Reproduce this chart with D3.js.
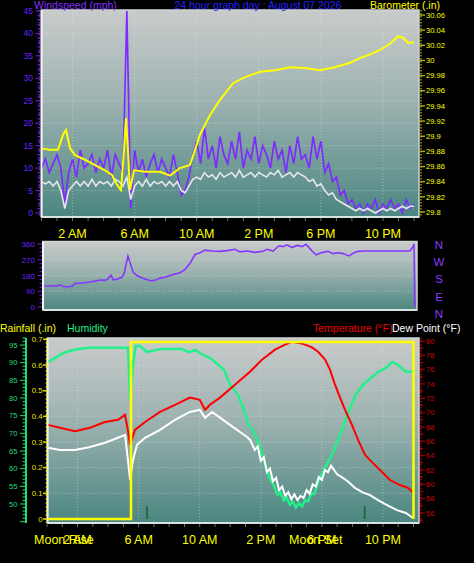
<!DOCTYPE html>
<html><head><meta charset="utf-8">
<script src="https://cdn.jsdelivr.net/npm/d3@7"></script>
<style>
html,body{margin:0;padding:0;background:#000;}
svg{display:block;font-family:"Liberation Sans",Arial,sans-serif;}
</style></head><body>
<svg id="c" width="474" height="563"></svg>
<script>
// ---------------- DATA ----------------
const hourLabels = ["2 AM","6 AM","10 AM","2 PM","6 PM","10 PM"];
const hourLabelAt = [2,6,10,14,18,22];
const windTicks = [0,5,10,15,20,25,30,35,40,45];
const baroTicks = [29.8,29.82,29.84,29.86,29.88,29.9,29.92,29.94,29.96,29.98,30,30.02,30.04,30.06];
const dirTicks = [0,90,180,270,360];
const compass = ["N","W","S","E","N"];
const humTicks = [50,55,60,65,70,75,80,85,90,95];
const rainTicks = [0,0.1,0.2,0.3,0.4,0.5,0.6,0.7];
const tempTicks = [56,58,60,62,64,66,68,70,72,74,76,78,80];

// wind gust (mph), one value every 15 minutes from 0h to 24h
const windGust = [10,12,9,11, 13,10,2,9, 12,8,14,10, 11,13,9,12, 10,14,8,13, 11,9,45,1,
  14,9,12,8, 11,13,9,12, 10,8,13,9, 4,5,8,13, 16,11,19,12, 15,10,17,13,
  11,16,12,18, 10,14,12,17, 11,15,13,10, 16,12,14,9, 15,11,17,12, 13,10,17,12,
  16,9,11,7, 8,4,5,2, 3,1,2,0, 2,1,3,0, 2,1,3,1, 2,0,3,1, 2];
// average wind speed (mph), same 15-minute steps
const windAvg = [7,6.5,7,6, 7,5,1,5, 6,7,6,7, 6,7.5,6,7, 6.5,7,6,7.5, 7,6,8,3,
  6,7,6,7.5, 6,7,6.5,7, 6,7,6,7, 5,4.5,6,7.5, 8,7.5,9,8, 8.5,7.5,9,8,
  8.5,9,8,9.5, 8,8.5,9,8, 9,8.5,8,9, 8.5,9.5,8,8.5, 9,8,9,8.5, 8,7,7.5,6,
  6.5,5,4,4.5, 3,2.5,2,1.5, 1,0.5,1,0.5, 1,0.5,0,0.5, 1,0.5,1,0.5, 1,1.5,1,1.5, 1.5];
// barometer (in)
const baroTime = [0,0.55,1.06,1.39,1.58,1.84,2.16,2.8,3.45,4.09,4.54,4.86,5.12,5.32,5.44,5.57,5.7,5.96,6.67,7.64,8.28,8.92,9.57,10.21,10.86,11.5,12.34,13.11,14.08,15.05,16.0,16.98,17.94,18.9,19.88,20.52,21.17,21.81,22.45,22.97,23.29,23.62,24];
const baroVal  = [29.884,29.882,29.882,29.902,29.908,29.884,29.875,29.869,29.862,29.855,29.849,29.836,29.829,29.882,29.924,29.882,29.829,29.855,29.853,29.853,29.848,29.858,29.862,29.902,29.928,29.948,29.970,29.978,29.985,29.987,29.991,29.990,29.987,29.991,29.997,30.003,30.008,30.014,30.022,30.032,30.030,30.023,30.024];
// wind direction (degrees)
const dirTime = [0.1,0.55,1.0,1.19,1.39,1.64,1.97,2.16,2.67,3.13,3.45,3.77,4.09,4.28,4.48,4.61,4.93,5.19,5.32,5.44,5.57,5.7,5.9,6.15,6.48,7.0,7.31,7.64,7.96,8.28,8.6,8.92,9.25,9.57,9.89,10.21,10.53,10.99,11.5,11.95,12.47,12.79,13.24,13.76,14.27,14.53,14.92,15.3,15.56,15.82,16.14,16.46,16.79,17.04,17.24,17.43,17.69,18.07,18.46,18.78,19.1,19.43,19.81,20.14,20.39,20.84,21.81,22.78,23.74,23.94,24.0,24.05];
const dirVal  = [120,120,122,125,118,114,118,135,137,143,148,154,152,160,183,155,160,171,190,240,291,255,200,180,166,150,152,165,170,180,188,195,215,250,300,310,325,320,318,322,330,315,320,312,318,330,320,350,345,355,340,352,345,358,340,320,298,312,318,305,310,305,292,310,318,320,320,320,320,345,360,0];
// temperature (°F)
const tempTime = [0.07,0.85,1.83,2.82,3.8,4.65,5.11,5.3,5.44,5.76,6.42,7.4,8.38,9.36,10.0,10.35,10.67,11.33,12.31,13.29,14.08,14.93,15.59,16.04,16.57,16.9,17.35,17.75,18.21,18.53,18.86,19.19,19.52,19.97,20.37,20.83,21.28,21.81,22.46,23.12,23.64,23.97];
const tempVal  = [68.3,67.9,67.4,67.9,68.7,69.0,69.7,67.5,65.5,67.6,68.7,70.1,71.1,72.1,71.8,70.4,71.1,72.1,73.9,75.7,77.4,78.8,79.5,79.9,79.7,79.5,79.1,78.5,77.4,76.0,73.9,72.1,70.4,68.3,66.2,64.1,63.1,62.0,60.6,59.9,59.5,58.9];
// dew point (°F)
const dewTime = [0.07,0.85,1.83,2.82,3.8,4.65,5.11,5.3,5.44,5.63,5.89,6.42,7.4,8.38,9.36,10.0,10.35,10.81,11.33,11.98,12.64,13.1,13.3,13.6,13.8,14.0,14.2,14.4,14.6,14.8,15.0,15.2,15.4,15.6,15.8,16.0,16.2,16.4,16.6,16.8,17.0,17.2,17.4,17.6,17.8,18.0,18.2,18.4,18.6,18.8,19.0,19.3,19.71,20.17,20.63,21.15,21.68,22.27,22.92,23.5,23.97];
const dewVal  = [65.1,64.8,64.8,65.2,65.8,66.5,66.9,63.4,60.6,63.4,65.5,66.5,67.6,69.0,70.1,70.4,69.3,70.1,69.3,68.3,67.3,66.6,66.2,64.8,65.3,63.3,63.8,61.7,62.2,60.4,60.9,59.2,59.7,58.4,58.9,57.9,58.6,57.8,58.4,58.1,59.2,58.7,60.0,59.7,61.0,60.6,62.0,61.7,62.6,62.0,61.4,61.0,60.4,59.5,58.9,58.5,57.8,57.1,56.4,56.0,55.3];
// humidity (%)
const humTime = [0.07,0.5,1.05,1.7,2.7,4.0,5.3,5.45,5.6,5.8,6.1,6.55,7.5,8.8,9.3,9.7,10.2,10.7,11.0,11.6,12.0,12.5,12.9,13.2,13.5,13.9,14.2,14.5,14.7,14.9,15.1,15.3,15.5,15.7,15.9,16.1,16.3,16.5,16.7,16.9,17.1,17.3,17.5,17.8,18.3,18.8,19.3,19.8,20.2,20.7,21.2,21.7,22.2,22.6,23.0,23.5,24.0];
const humVal  = [90.2,91.3,92.7,93.6,94.2,94.2,94.2,79.4,88.0,94.7,94.7,93.0,93.9,93.9,93.0,93.6,92.2,91.3,90.2,87.9,83.7,80.9,76.6,72.4,70.9,66.7,62.5,58.2,56.4,54.8,52.6,53.2,51.0,51.8,49.8,50.6,49.0,50.2,49.3,51.0,50.8,53.0,52.8,56.8,61.0,65.3,70.9,76.6,80.9,83.7,85.7,87.4,88.5,90.2,89.3,87.4,87.4];
// rainfall (in)
const rainTime = [0,5.5,5.5,24.0,24.0];
const rainVal  = [0,0,0.69,0.69,0];
// rain rate marks (in)
const rainRateTime = [6.55,20.8];
const rainRateVal  = [0.05,0.05];
const moonLabels = [{t:"Moon Rise",h:-0.85},{t:"Moon Set",h:15.85}];

// ---------------- DRAW ----------------
const svg = d3.select("#c");
const defs = svg.append("defs");
function grad(id){
  const g = defs.append("linearGradient").attr("id",id).attr("x1",0).attr("y1",0).attr("x2",0).attr("y2",1);
  g.append("stop").attr("offset","0").attr("stop-color","#c9cbcb");
  g.append("stop").attr("offset","0.45").attr("stop-color","#9cb2b0");
  g.append("stop").attr("offset","1").attr("stop-color","#4b8680");
}
grad("g1");

const F = '"Liberation Sans",Arial,sans-serif';
function txt(x,y,s,color,size,anchor){
  return svg.append("text").attr("x",x).attr("y",y).text(s).attr("fill",color)
    .attr("font-size",size).attr("text-anchor",anchor||"start").attr("font-family",F);
}
function panel(l,t,r,b){
  svg.append("rect").attr("x",l).attr("y",t).attr("width",r-l).attr("height",b-t).attr("fill","url(#g1)");
  svg.append("rect").attr("x",l).attr("y",t).attr("width",r-l).attr("height",b-t)
    .attr("fill","none").attr("stroke","#d0d4d4").attr("stroke-width",1.5);
  svg.append("line").attr("x1",l).attr("x2",l).attr("y1",t).attr("y2",b).attr("stroke","#f4f4f4").attr("stroke-width",2);
  svg.append("line").attr("x1",l).attr("x2",r).attr("y1",b).attr("y2",b).attr("stroke","#d8e4e4").attr("stroke-width",2);
}
function grid(l,r,ys,xs,t,b){
  svg.append("g").selectAll("line").data(ys).join("line")
    .attr("x1",l+2).attr("x2",r-1).attr("y1",d=>d).attr("y2",d=>d)
    .attr("stroke","#e8eeee").attr("stroke-opacity",0.45).attr("stroke-dasharray","1,2");
  svg.append("g").selectAll("line").data(xs).join("line")
    .attr("y1",t+1).attr("y2",b-1).attr("x1",d=>d).attr("x2",d=>d)
    .attr("stroke","#e8eeee").attr("stroke-opacity",0.4).attr("stroke-dasharray","1,2");
}
function clip(id,l,t,r,b){
  defs.append("clipPath").attr("id",id).append("rect").attr("x",l).attr("y",t).attr("width",r-l).attr("height",b-t);
}
const hours = d3.range(0,25);

// ===== TOP PANEL =====
const T = {l:41.5,t:10,r:419,b:217};
const xTop = d3.scaleLinear().domain([0,24]).range([41.5,414]);
const yWind = d3.scaleLinear().domain([0,45]).range([213,11]);
const yBaro = d3.scaleLinear().domain([29.8,30.06]).range([212,15]);
panel(T.l,T.t,T.r,T.b);
grid(T.l,T.r,windTicks.slice(1,9).map(yWind),hourLabelAt.map(xTop),T.t,T.b);
clip("cTop",T.l+1,T.t,T.r-1,T.b-1);

const gTop = svg.append("g").attr("clip-path","url(#cTop)");
const wl = d3.line().x((d,i)=>xTop(i*0.25)).y(d=>yWind(d));
gTop.append("path").attr("d",wl(windGust)).attr("fill","none").attr("stroke","#7d2cff").attr("stroke-width",1.7);
gTop.append("path").attr("d",wl(windAvg)).attr("fill","none").attr("stroke","#e6e6ee").attr("stroke-width",1.6);
const bl = d3.line().x((d,i)=>xTop(baroTime[i])).y(d=>yBaro(d));
gTop.append("path").attr("d",bl(baroVal)).attr("fill","none").attr("stroke","#ffff00").attr("stroke-width",2);

// left wind axis
svg.append("line").attr("x1",39.5).attr("x2",39.5).attr("y1",T.t).attr("y2",T.b)
  .attr("stroke","#6a22e0").attr("stroke-width",1.5).attr("stroke-dasharray","1.5,1.5");
svg.append("g").selectAll("line").data(d3.range(0,46)).join("line")
  .attr("x1",d=>d%5===0?35.5:37.5).attr("x2",40).attr("y1",d=>yWind(d)).attr("y2",d=>yWind(d))
  .attr("stroke","#6a22e0").attr("stroke-width",1);
windTicks.forEach(v=>txt(33,yWind(v)+3,v,"#6a22ff","8.5px","end"));
// right baro axis
svg.append("line").attr("x1",421).attr("x2",421).attr("y1",T.t).attr("y2",T.b)
  .attr("stroke","#9a9a00").attr("stroke-width",1.5).attr("stroke-dasharray","1.5,1.5");
svg.append("g").selectAll("line").data(baroTicks).join("line")
  .attr("x1",420).attr("x2",425).attr("y1",d=>yBaro(d)).attr("y2",d=>yBaro(d))
  .attr("stroke","#a8a800").attr("stroke-width",1.5);
baroTicks.forEach(v=>txt(426,yBaro(v)+2.7,(+v.toFixed(2)).toString(),"#ffff00","7.6px"));
// hour ticks
svg.append("g").selectAll("line").data(hours).join("line")
  .attr("x1",d=>xTop(d)).attr("x2",d=>xTop(d)).attr("y1",T.b+1).attr("y2",T.b+4).attr("stroke","#707070");
hourLabels.forEach((s,i)=>txt(xTop(hourLabelAt[i]),238,s,"#ffff00","12.5px","middle"));

// titles
txt(34,9.3,"Windspeed (mph)","#8030ff","10.5px");
txt(258,9.3,"24 hour graph day : August 07 2026","#2222ff","10.5px","middle");
txt(370,9.3,"Barometer (.in)","#ffff00","10.5px");

// ===== MIDDLE PANEL =====
const M = {l:43,t:241.5,r:417,b:310};
const yDir = d3.scaleLinear().domain([0,360]).range([307,244]);
panel(M.l,M.t,M.r,M.b);
grid(M.l,M.r,[90,180,270].map(yDir),[],M.t,M.b);
clip("cMid",M.l+1,M.t,M.r,M.b);
const dl = d3.line().x((d,i)=>xTop(dirTime[i])).y(d=>yDir(d));
svg.append("g").attr("clip-path","url(#cMid)").append("path").attr("d",dl(dirVal))
  .attr("fill","none").attr("stroke","#8636ff").attr("stroke-width",1.6);
svg.append("g").selectAll("line").data(d3.range(0,361,22.5)).join("line")
  .attr("x1",d=>d%90===0?37.5:39.5).attr("x2",42).attr("y1",d=>yDir(d)).attr("y2",d=>yDir(d))
  .attr("stroke","#6a22e0");
dirTicks.forEach(v=>txt(35,yDir(v)+3,v,"#6a22ff","8px","end"));
compass.forEach((c,i)=>txt(439,yDir(dirTicks[4-i])+4.5+i*1.6,c,"#8a3cff","11.5px","middle"));

// ===== BOTTOM PANEL =====
const B = {l:47.5,t:338,r:419,b:523};
const xBot = d3.scaleLinear().domain([0,24]).range([47,413.5]);
const yHum = d3.scaleLinear().domain([50,95]).range([504,345]);
const yRain = d3.scaleLinear().domain([0,0.6]).range([519,365]);
const yTemp = d3.scaleLinear().domain([56,80]).range([513,341]);
panel(B.l,B.t,B.r,B.b);
grid(B.l,B.r,rainTicks.slice(1,7).map(yRain),hourLabelAt.map(xBot),B.t,B.b);
clip("cBot",B.l+1,B.t,B.r,B.b);
const gB = svg.append("g").attr("clip-path","url(#cBot)");
gB.selectAll("line.rr").data(rainRateVal).join("line")
  .attr("x1",(d,i)=>xBot(rainRateTime[i])).attr("x2",(d,i)=>xBot(rainRateTime[i]))
  .attr("y1",yRain(0)).attr("y2",d=>yRain(d)).attr("stroke","#1f6a48").attr("stroke-width",2);
gB.append("path").attr("d",d3.line().x((d,i)=>xBot(humTime[i])).y(d=>yHum(d))(humVal))
  .attr("fill","none").attr("stroke","#22f08a").attr("stroke-width",2.5);
gB.append("path").attr("d",d3.line().x((d,i)=>xBot(dewTime[i])).y(d=>yTemp(d))(dewVal))
  .attr("fill","none").attr("stroke","#ffffff").attr("stroke-width",2);
gB.append("path").attr("d",d3.line().x((d,i)=>xBot(tempTime[i])).y(d=>yTemp(d))(tempVal))
  .attr("fill","none").attr("stroke","#ff0000").attr("stroke-width",2);
gB.append("path").attr("d",d3.line().x((d,i)=>xBot(rainTime[i])).y(d=>yRain(d))(rainVal))
  .attr("fill","none").attr("stroke","#ffff00").attr("stroke-width",2.5);

// humidity axis
svg.append("line").attr("x1",26).attr("x2",26).attr("y1",B.t).attr("y2",B.b)
  .attr("stroke","#22dd77").attr("stroke-width",2);
svg.append("g").selectAll("line").data(d3.range(45,98)).join("line")
  .attr("x1",d=>d%5===0?20:22.5).attr("x2",26).attr("y1",d=>yHum(d)).attr("y2",d=>yHum(d))
  .attr("stroke","#22dd77").attr("stroke-width",1);
humTicks.forEach(v=>txt(17.5,yHum(v)+2.7,v,"#22dd77","7.6px","end"));
// rain axis
svg.append("line").attr("x1",46.5).attr("x2",46.5).attr("y1",B.t).attr("y2",B.b)
  .attr("stroke","#dddd00").attr("stroke-width",1.5).attr("stroke-dasharray","2,2");
svg.append("g").selectAll("line").data(rainTicks).join("line")
  .attr("x1",43).attr("x2",47).attr("y1",d=>yRain(d)).attr("y2",d=>yRain(d))
  .attr("stroke","#dddd00").attr("stroke-width",1.5);
rainTicks.forEach(v=>txt(42.5,yRain(v)+2.7,v===0?"0":v.toFixed(1),"#e8e800","7.8px","end"));
// temperature axis
svg.append("line").attr("x1",421).attr("x2",421).attr("y1",B.t).attr("y2",B.b)
  .attr("stroke","#b00000").attr("stroke-width",1.5).attr("stroke-dasharray","1.5,1.5");
svg.append("g").selectAll("line").data(d3.range(55,81)).join("line")
  .attr("x1",420).attr("x2",d=>d%2===0?425:423).attr("y1",d=>yTemp(d)).attr("y2",d=>yTemp(d))
  .attr("stroke","#c00000").attr("stroke-width",1);
tempTicks.forEach(v=>txt(426,yTemp(v)+2.7,v,"#d00000","7.6px"));
// hour ticks under bottom
svg.append("g").selectAll("line").data(hours).join("line")
  .attr("x1",d=>xBot(d)).attr("x2",d=>xBot(d)).attr("y1",B.b+1).attr("y2",B.b+4).attr("stroke","#707070");
hourLabels.forEach((s,i)=>txt(xBot(hourLabelAt[i]),544,s,"#ffff00","12.5px","middle"));
moonLabels.forEach(m=>txt(xBot(m.h),544,m.t,"#ffff00","12.5px"));

txt(0,331.5,"Rainfall (.in)","#ffff00","10.5px");
txt(67,331.5,"Humidity","#22ee88","10.5px");
txt(313,331.5,"Temperature (°F)","#ee0000","10.5px");
txt(392,331.5,"Dew Point (°F)","#ffffff","10.5px");
</script>
</body></html>
